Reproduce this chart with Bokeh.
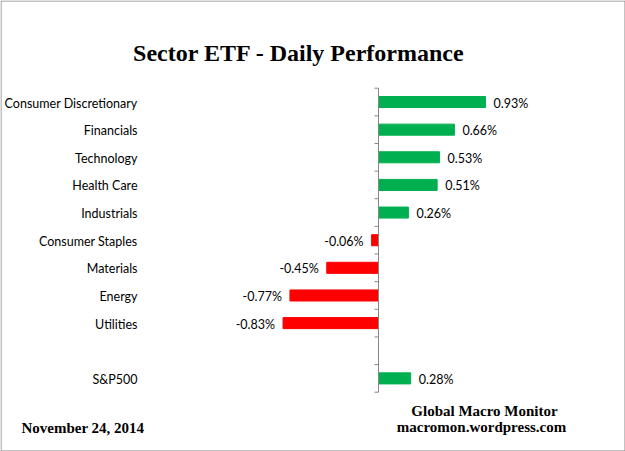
from bokeh.plotting import figure
from bokeh.models import Range1d, ColumnDataSource
from bokeh.core.properties import value
from bokeh.embed import file_html
from bokeh.resources import INLINE

# ---------------- data ----------------
sectors = ["Consumer Discretionary", "Financials", "Technology", "Health Care",
           "Industrials", "Consumer Staples", "Materials", "Energy", "Utilities"]
sector_values = [0.93, 0.66, 0.53, 0.51, 0.26, -0.06, -0.45, -0.77, -0.83]
benchmark = "S&P500"
benchmark_value = 0.28
spacer = ""

title_text = "Sector ETF - Daily  Performance"
date_text = "November 24,  2014"
credit_lines = ["Global Macro Monitor", "macromon.wordpress.com"]

# ---------------- layout constants (pixels) ----------------
W, H = 625, 451
AXIS_PX = 378.0              # x of the zero line
PX_PER_UNIT = 115.0          # pixels per 1 %
SLOT_TOP, SLOT_BOTTOM = 87.7, 391.7
LABEL_RIGHT_PX = 137
TICK_PX = 4
LABEL_FONT = "Lato"
LABEL_SIZE = "12.5px"
SERIF = "Liberation Serif"
GREEN, RED = "#00B050", "#FF0000"
GREY = "#868686"

slots = sectors + [spacer, benchmark]            # top -> bottom
n = len(slots)
SLOT_PX = (SLOT_BOTTOM - SLOT_TOP) / n


def cx(px):
    """canvas x pixel -> data x"""
    return (px - AXIS_PX) / PX_PER_UNIT


def cy(px):
    """canvas y pixel -> data y (slot index, 0 = top slot centre)"""
    return -0.5 + (px - SLOT_TOP) / SLOT_PX


x_range = Range1d(start=cx(0), end=cx(W))
y_range = Range1d(start=cy(H), end=cy(0))        # flipped: slot 0 on top

p = figure(width=W, height=H, x_range=x_range, y_range=y_range,
           output_backend="svg", toolbar_location=None,
           x_axis_location=None, y_axis_location=None,
           min_border=0)
p.outline_line_color = None
p.background_fill_color = "white"
p.border_fill_color = "white"
for g in p.grid:
    g.visible = False

# ---------------- bars ----------------
cats = sectors + [benchmark]
vals = sector_values + [benchmark_value]
ypos = [slots.index(c) for c in cats]
colors = [GREEN if v >= 0 else RED for v in vals]
src = ColumnDataSource(dict(y=ypos, v=vals, c=colors))
p.hbar(y="y", left=0, right="v", height=0.4, color="c", source=src)

# ---------------- value labels ----------------
pos = ColumnDataSource(dict(
    y=[y for y, v in zip(ypos, vals) if v >= 0],
    x=[v for v in vals if v >= 0],
    t=[f"{v:.2f}%" for v in vals if v >= 0]))
neg = ColumnDataSource(dict(
    y=[y for y, v in zip(ypos, vals) if v < 0],
    x=[v for v in vals if v < 0],
    t=[f"{v:.2f}%" for v in vals if v < 0]))
common = dict(text_baseline="middle", text_font=value(LABEL_FONT),
              text_font_size=LABEL_SIZE, text_color="#000000", y_offset=1)
p.text(x="x", y="y", text="t", source=pos, x_offset=8, text_align="left", **common)
p.text(x="x", y="y", text="t", source=neg, x_offset=-8, text_align="right", **common)

# ---------------- category labels ----------------
lab = ColumnDataSource(dict(y=list(range(n)), t=slots))
p.text(x=cx(LABEL_RIGHT_PX), y="y", text="t", source=lab, text_align="right",
       **common)

# ---------------- zero axis with boundary ticks ----------------
bounds = [i - 0.5 for i in range(n + 1)]
p.segment(x0=[0], x1=[0], y0=[bounds[0]], y1=[bounds[-1]],
          line_color=GREY, line_width=1)
p.segment(x0=[-TICK_PX / PX_PER_UNIT] * len(bounds), x1=[0] * len(bounds),
          y0=bounds, y1=bounds, line_color=GREY, line_width=1)

# ---------------- titles / footers ----------------
serif = dict(text_font=value(SERIF), text_font_style="bold",
             text_color="#000000", text_baseline="alphabetic")
p.text(x=[cx(301.5)], y=[cy(52)], text=[title_text], text_align="center",
       text_font_size="24px", **serif)
p.text(x=[cx(21)], y=[cy(427)], text=[date_text], text_align="left",
       text_font_size="15px", **serif)
p.text(x=[cx(484)], y=[cy(410)], text=[credit_lines[0]], text_align="center",
       text_font_size="15px", **serif)
p.text(x=[cx(481)], y=[cy(426.5)], text=[credit_lines[1]], text_align="center",
       text_font_size="15px", **serif)

# ---------------- chart border ----------------
p.quad(left=[cx(0.5)], right=[cx(W - 0.5)], top=[cy(0.5)], bottom=[cy(H - 0.5)],
       fill_color=None, line_color=GREY, line_width=1)

open("out.html", "w").write(file_html(p, INLINE))
